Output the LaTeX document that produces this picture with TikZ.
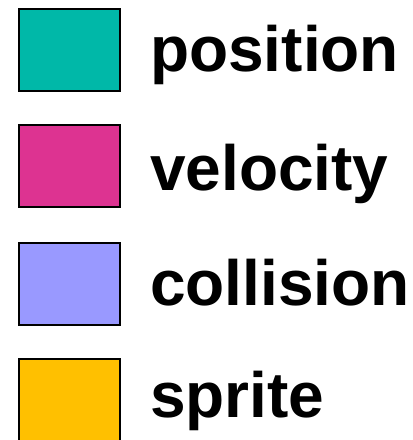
\documentclass[tikz,border=0pt]{standalone}
\usepackage{fontspec}
\setmainfont{Liberation Sans}
\definecolor{cpos}{RGB}{0,184,168}
\definecolor{cvel}{RGB}{221,51,145}
\definecolor{ccol}{RGB}{153,153,255}
\definecolor{cspr}{RGB}{255,192,0}
\begin{document}
\begin{tikzpicture}[x=1pt,y=1pt,
  swatch/.style={draw=black, line width=2.5pt, minimum width=101pt, minimum height=82pt, inner sep=0pt, outer sep=0pt, anchor=north west},
  lbl/.style={anchor=base west, inner sep=0pt, font=\fontsize{64}{70}\selectfont\bfseries}]
\clip (0,0) rectangle (413,-440);
\useasboundingbox (0,0) rectangle (413,-440);
\node[swatch, fill=cpos] (s1) at (19,-9) {};
\node[swatch, fill=cvel] (s2) at (19,-125) {};
\node[swatch, fill=ccol] (s3) at (19,-243) {};
\node[swatch, fill=cspr] (s4) at (19,-359) {};
\node[lbl] (t1) at (150,-71) {position};
\node[lbl] (t2) at (150,-190) {velocity};
\node[lbl] (t3) at (150,-305) {collision};
\node[lbl] (t4) at (150,-417) {sprite};
\end{tikzpicture}
\end{document}
